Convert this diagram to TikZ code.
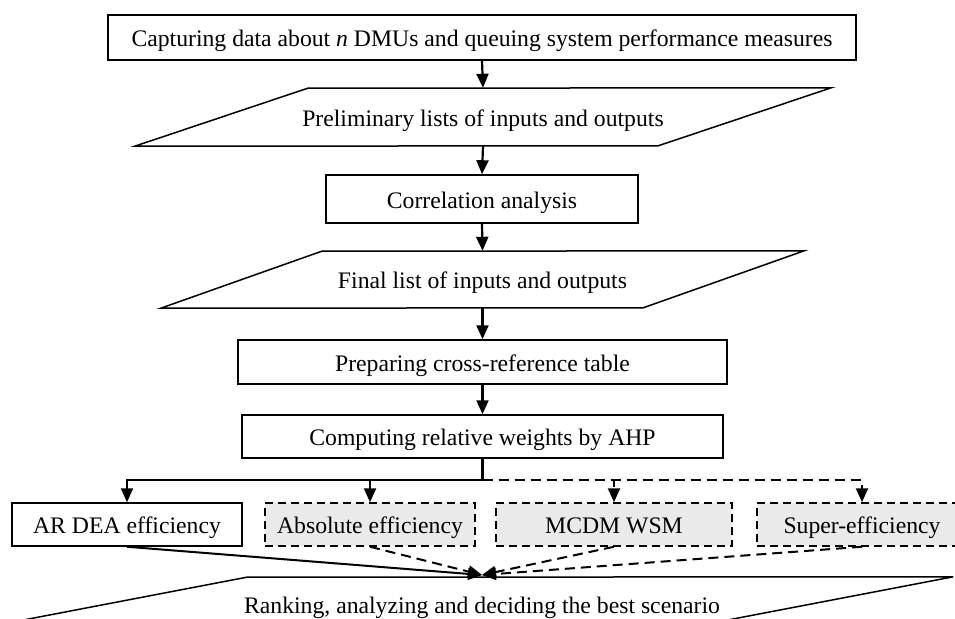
\documentclass[tikz,border=0pt]{standalone}
\usepackage{fontspec}
\setmainfont{Liberation Serif}
\usetikzlibrary{arrows.meta}
\definecolor{boxgray}{RGB}{234,234,234}
\begin{document}
\begin{tikzpicture}[x=1pt,y=-1pt,
  every node/.style={font=\fontsize{23.7}{28}\selectfont, inner sep=0pt, text height=18pt, text depth=0pt},
  stepbox/.style={draw, line width=1.5pt, rectangle},
  dstepbox/.style={stepbox, fill=boxgray, dash pattern=on 8pt off 5pt},
  databox/.style={rectangle},
  para/.style={line width=1.5pt, line join=miter},
  conn/.style={line width=2.2pt, -{Triangle[length=14pt,width=12pt]}},
  dconn/.style={conn, dash pattern=on 10pt off 6pt},
  plainline/.style={line width=2.2pt}]
\useasboundingbox (0,0) rectangle (955,618);
\clip (0,0) rectangle (955,618);

\node[stepbox, minimum width=748pt, minimum height=45pt] (b1) at (482,37.5)
  {Capturing data about \textit{n} DMUs and queuing system performance measures};
\node[databox, minimum width=696pt, minimum height=58pt] (p1) at (483,117)
  {Preliminary lists of inputs and outputs};
\draw[para] (p1.south west) -- ++(173,-58) -- (p1.north east) -- ++(-173,58) -- cycle;
\node[stepbox, minimum width=312pt, minimum height=48pt] (corr) at (482,199)
  {Correlation analysis};
\node[databox, minimum width=643pt, minimum height=57pt] (p2) at (482.5,279.5)
  {Final list of inputs and outputs};
\draw[para] (p2.south west) -- ++(161,-57) -- (p2.north east) -- ++(-161,57) -- cycle;
\node[stepbox, minimum width=489pt, minimum height=44pt] (prep) at (482.5,362)
  {Preparing cross-reference table};
\node[stepbox, minimum width=481pt, minimum height=43pt] (comp) at (482.5,436.5)
  {Computing relative weights by AHP};

\node[stepbox, minimum width=230pt, minimum height=43pt] (ar) at (127,524.5)
  {AR DEA efficiency};
\node[dstepbox, minimum width=210pt, minimum height=43pt] (abs) at (370,524.5)
  {Absolute efficiency};
\node[dstepbox, minimum width=236pt, minimum height=43pt] (mcdm) at (614,524.5)
  {MCDM WSM};
\node[dstepbox, minimum width=210pt, minimum height=43pt] (sup) at (862,524.5)
  {Super-efficiency};

\node[databox, minimum width=967pt, minimum height=50pt] (rank) at (469.5,602)
  {};
\draw[para] (rank.south west) -- ++(261,-50) -- (rank.north east) -- ++(-261,50) -- cycle;
\node[anchor=base] (ranktxt) at (482,613.5) {Ranking, analyzing and deciding the best scenario};

\draw[conn] (b1.south) -- (p1.north);
\draw[conn] (p1.south) -- (corr.north);
\draw[conn] (corr.south) -- (p2.north);
\draw[conn] (p2.south) -- (prep.north);
\draw[conn] (prep.south) -- (comp.north);

\coordinate (j) at (482.5,480);
\coordinate (m) at (482,575);
\draw[plainline] (comp.south) -- (j);
\draw[dconn] (j) -| (abs.north);
\draw[dconn] (j) -| (mcdm.north);
\draw[dconn] (j) -| (sup.north);
\draw[conn] (j) -| (ar.north);

\draw[conn, line width=2pt] (ar.south) -- (m);
\draw[dconn, line width=2pt] (abs.south) -- (m);
\draw[dconn, line width=2pt] (mcdm.south) -- (m);
\draw[dconn, line width=2pt] (sup.south) -- (m);
\end{tikzpicture}
\end{document}
